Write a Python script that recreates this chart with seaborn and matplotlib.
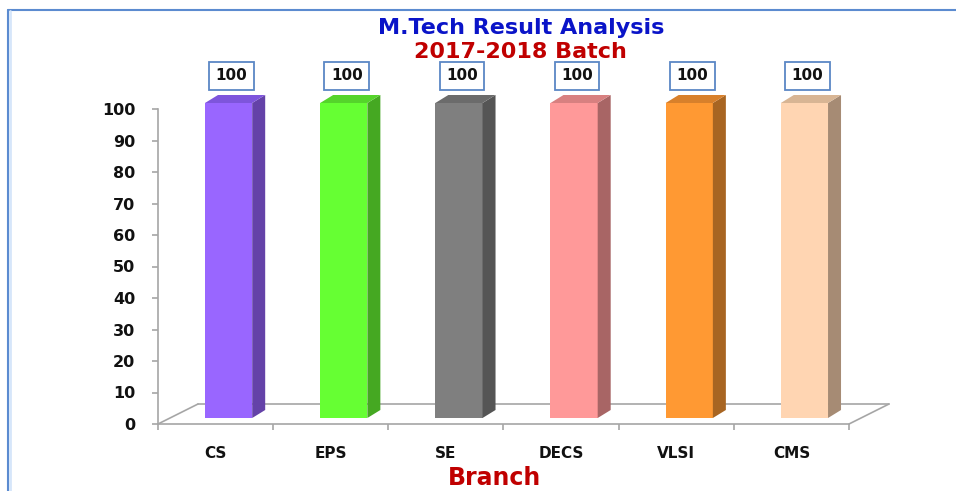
import numpy as np
import pandas as pd
import matplotlib
matplotlib.use("Agg")
import matplotlib.pyplot as plt
from matplotlib.patches import Polygon
from matplotlib.lines import Line2D
import seaborn as sns

# data
branches = ["CS", "EPS", "SE", "DECS", "VLSI", "CMS"]
pass_pct = [100, 100, 100, 100, 100, 100]
yticks = [0, 10, 20, 30, 40, 50, 60, 70, 80, 90, 100]

front_colors = ["#9966FF", "#66FF33", "#7F7F7F", "#FF9999", "#FF9933", "#FFD5B2"]
side_colors = ["#6442A8", "#45A822", "#555555", "#A86565", "#A86522", "#A68B74"]
top_colors = ["#7E55DC", "#55D42B", "#6B6B6B", "#D88080", "#D8802B", "#D8B594"]

df = pd.DataFrame({"branch": branches, "pct": pass_pct})

sns.set_theme(style="white")
plt.rcParams["font.family"] = ["DejaVu Sans"]

W, H = 956, 491
fig = plt.figure(figsize=(W / 100, H / 100), dpi=100)
# axes box in pixels: x 158..849, y 109..424
ax = fig.add_axes([158 / W, (H - 424) / H, (849 - 158) / W, (424 - 109) / H])

sns.barplot(data=df, x="branch", y="pct", hue="branch", palette=front_colors,
            width=0.41, legend=False, ax=ax, saturation=1, zorder=3)

ax.set_xlim(-0.5, len(branches) - 0.5)
ax.set_ylim(0, 100)

# pixel -> data units
ux = len(branches) / (849 - 158)
uy = 100 / (424 - 109)

# pseudo 3D: front face pushed into the floor, plus side and top faces
fx, fy = 13, 6      # front face offset
dx, dy = 13, 8      # bar depth
bars = sorted(ax.patches, key=lambda p: p.get_x())
for i, bar in enumerate(bars):
    x0 = bar.get_x() + fx * ux
    w = bar.get_width()
    h = bar.get_height()
    b = fy * uy
    bar.set_x(x0)
    bar.set_y(b)
    bar.set_edgecolor("none")
    bar.set_clip_on(False)
    x1 = x0 + w
    side = Polygon([(x1, b), (x1 + dx * ux, b + dy * uy),
                    (x1 + dx * ux, b + h + dy * uy), (x1, b + h)],
                   closed=True, facecolor=side_colors[i], edgecolor="none",
                   zorder=3, clip_on=False)
    top = Polygon([(x0, b + h), (x1, b + h), (x1 + dx * ux, b + h + dy * uy),
                   (x0 + dx * ux, b + h + dy * uy)],
                  closed=True, facecolor=top_colors[i], edgecolor="none",
                  zorder=3, clip_on=False)
    ax.add_patch(side)
    ax.add_patch(top)
    ax.text(i + 16 * ux, h + 10.5, f"{pass_pct[i]}", ha="center", va="center",
            fontsize=11, fontweight="bold", color="#111111", zorder=5,
            bbox=dict(boxstyle="square,pad=0.42", facecolor="white",
                      edgecolor="#5B87C5", linewidth=1.3))

# floor outline
gx, gy = 40 * ux, 20 * uy
lo, hi = -0.5, len(branches) - 0.5
floor_col = "#A6A6A6"
ax.plot([lo + gx, hi + gx], [gy, gy], color=floor_col, lw=1.2, zorder=1, clip_on=False)
ax.plot([lo, lo + gx], [0, gy], color=floor_col, lw=1.2, zorder=1, clip_on=False)
ax.plot([hi, hi + gx], [0, gy], color=floor_col, lw=1.2, zorder=1, clip_on=False)

# spines and ticks
for s in ["top", "right"]:
    ax.spines[s].set_visible(False)
ax.spines["left"].set_color(floor_col)
ax.spines["bottom"].set_color(floor_col)
ax.spines["left"].set_linewidth(1.2)
ax.spines["bottom"].set_linewidth(1.2)

ax.set_yticks(yticks)
ax.set_xticks(range(len(branches)))
ax.set_xticklabels(branches)
ax.set_xticks(np.arange(-0.5, len(branches), 1.0), minor=True)
ax.tick_params(axis="y", which="major", left=True, length=4.5, width=1.2,
               color=floor_col, pad=12, labelsize=11.5, labelcolor="#111111")
ax.tick_params(axis="x", which="major", bottom=False, length=0, pad=16,
               labelsize=11, labelcolor="#111111")
ax.tick_params(axis="x", which="minor", bottom=True, length=4, width=1.2,
               color=floor_col)
for lab in ax.get_yticklabels() + ax.get_xticklabels():
    lab.set_fontweight("bold")
ax.set_xlabel("")
ax.set_ylabel("")
ax.grid(False)

# titles
fig.text(521 / W, 1 - 28 / H, "M.Tech Result Analysis", ha="center", va="center",
         fontsize=16, fontweight="bold", color="#0A14C8")
fig.text(520 / W, 1 - 52 / H, "2017-2018 Batch", ha="center", va="center",
         fontsize=16, fontweight="bold", color="#C00000")
fig.text(494 / W, 1 - 478 / H, "Branch", ha="center", va="center",
         fontsize=17, fontweight="bold", color="#C00000")

# frame border (top and left)
fig.add_artist(Line2D([8 / W, 1], [1 - 10 / H, 1 - 10 / H], color="#5B8BD0", lw=1.5))
fig.add_artist(Line2D([8 / W, 8 / W], [0, 1 - 10 / H], color="#5B8BD0", lw=1.5))
fig.add_artist(Line2D([10 / W, 10 / W], [0, 1 - 11 / H], color="#D6E6FA", lw=2))

fig.savefig("out.png", dpi=100)
